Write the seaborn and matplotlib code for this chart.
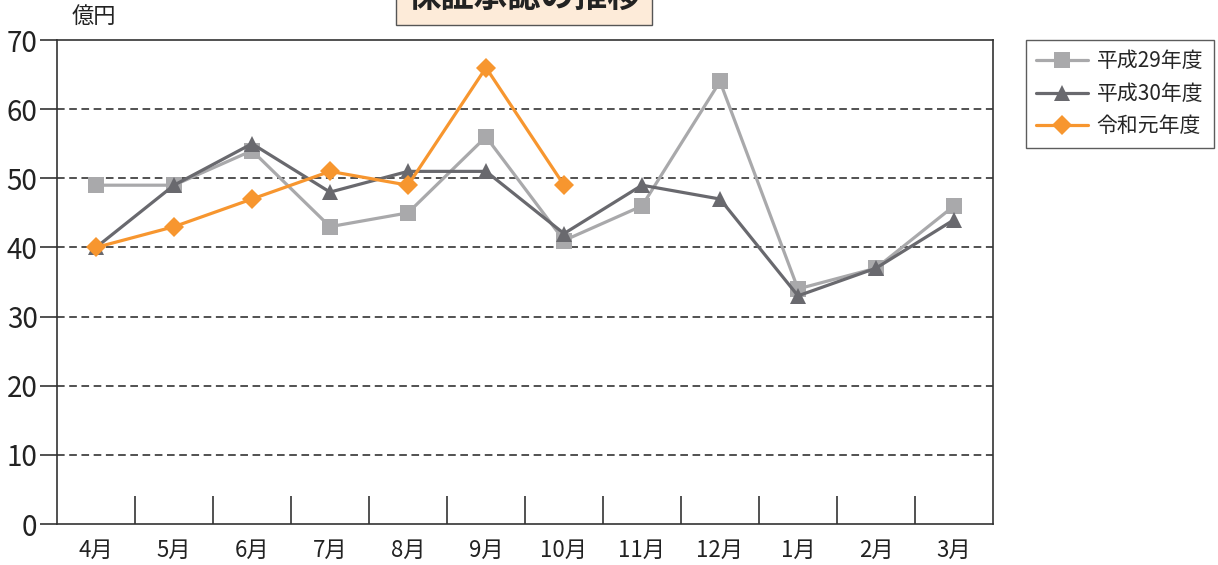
"""保証承認の推移 line chart (monthly, three fiscal years)."""

import numpy as np
import pandas as pd
import matplotlib
matplotlib.use("Agg")
import matplotlib.pyplot as plt
import seaborn as sns

MONTHS = ["4月", "5月", "6月", "7月", "8月", "9月", "10月", "11月", "12月", "1月", "2月", "3月"]
H29 = [49, 49, 54, 43, 45, 56, 41, 46, 64, 34, 37, 46]
H30 = [40, 49, 55, 48, 51, 51, 42, 49, 47, 33, 37, 44]
R1 = [40, 43, 47, 51, 49, 66, 49, np.nan, np.nan, np.nan, np.nan, np.nan]
SERIES = ["平成29年度", "平成30年度", "令和元年度"]
COLORS = {"平成29年度": "#a9a9ab", "平成30年度": "#69696e", "令和元年度": "#f7962f"}
MARKERS = {"平成29年度": "s", "平成30年度": "^", "令和元年度": "D"}

sns.set_theme(style="white")
plt.rcParams["font.family"] = ["Noto Sans CJK JP", "DejaVu Sans"]

df = pd.DataFrame({"month": MONTHS * 3,
                   "value": H29 + H30 + R1,
                   "series": np.repeat(SERIES, len(MONTHS))})

fig = plt.figure(figsize=(12.18, 5.65), dpi=100)
ax = fig.add_axes([57 / 1218, 1 - 524 / 565, 936 / 1218, 484 / 565])

for name in SERIES:
    sub = df[df["series"] == name]
    sns.lineplot(data=sub, x="month", y="value", ax=ax, color=COLORS[name],
                 marker=MARKERS[name], markersize=11 if name != "令和元年度" else 10,
                 markeredgewidth=0, linewidth=2.3, label=name, sort=False)

ax.set_xlim(-0.5, 11.5)
ax.set_ylim(0, 70)
ax.set_yticks(range(0, 71, 10))
ax.set_xticks(range(12))
ax.set_xticklabels(MONTHS, fontsize=16)
ax.set_xticks(np.arange(0.5, 11, 1), minor=True)
ax.tick_params(axis="x", which="major", bottom=False, pad=5, colors="#222222")
ax.tick_params(axis="x", which="minor", bottom=True, direction="in", length=20,
               width=1.2, color="#333333")
ax.tick_params(axis="y", left=True, direction="out", length=12, width=1.2, labelsize=20,
               color="#333333", labelcolor="#222222", pad=2)
ax.set_xlabel("")
ax.set_ylabel("")
for y in range(10, 70, 10):
    ax.axhline(y, color="#222222", linestyle=(0, (5, 3)), linewidth=1.1, zorder=0)
for s in ax.spines.values():
    s.set_color("#333333")
    s.set_linewidth(1.2)

ax.text(0.016, 1.025, "億円", transform=ax.transAxes, fontsize=16, color="#222222",
        va="bottom", ha="left")

ax.legend(loc="upper left", bbox_to_anchor=(1.035, 1.0), frameon=True, fancybox=False,
          edgecolor="#333333", fontsize=15, handlelength=2.5, borderpad=0.5,
          labelspacing=0.5, handletextpad=0.4, borderaxespad=0, markerscale=1.0)

fig.text(524 / 1218, 1.005, "保証承認の推移", ha="center", va="center", fontsize=24,
         fontweight="bold", color="#222222",
         bbox=dict(boxstyle="square,pad=0.35", facecolor="#fdebd9", edgecolor="#555555"))

fig.savefig("out.png", dpi=100)
